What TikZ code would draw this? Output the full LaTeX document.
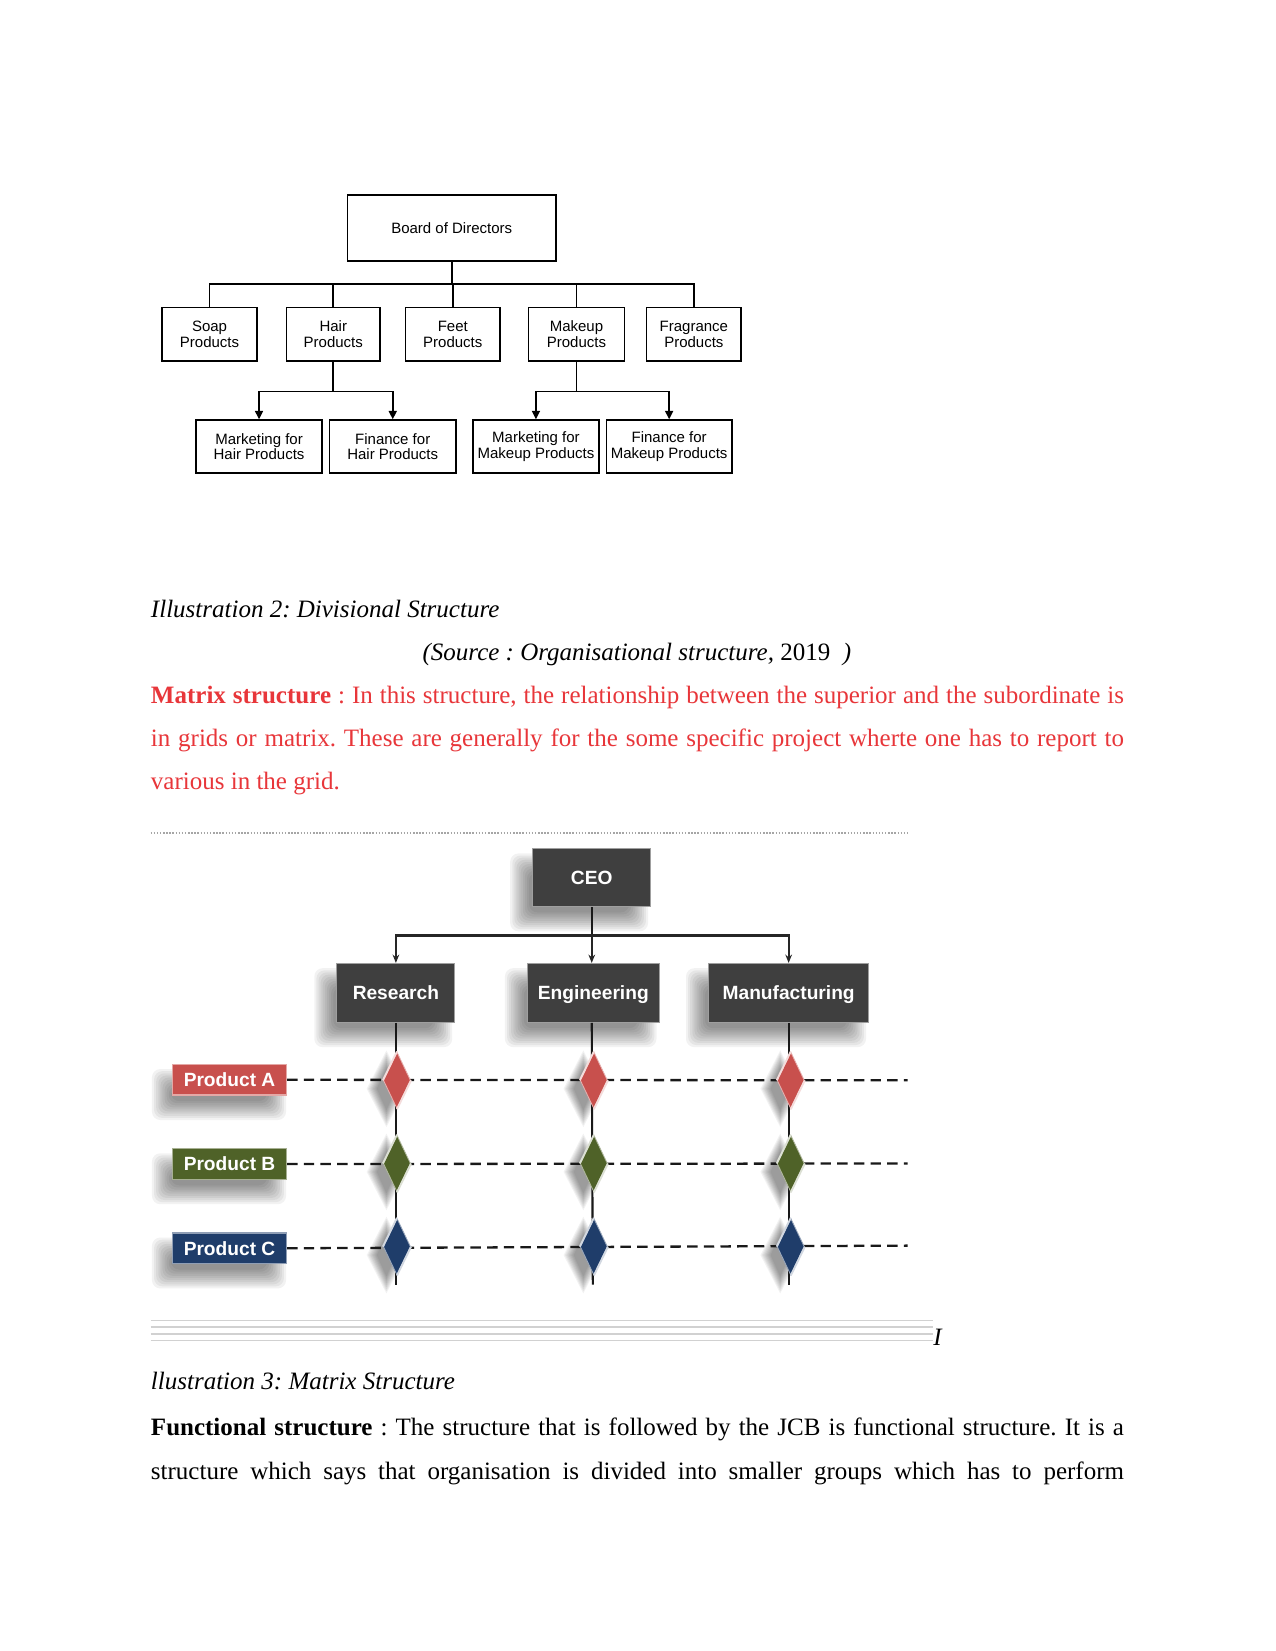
\documentclass[tikz,border=0pt]{standalone}
\usepackage{fontspec}
\setmainfont{Liberation Serif}
\setsansfont{Liberation Sans}
\usetikzlibrary{arrows.meta,shapes.geometric}
\definecolor{txtred}{RGB}{232,54,58}
\definecolor{boxgray}{RGB}{63,63,63}
\definecolor{pred}{RGB}{200,80,77}
\definecolor{pgreen}{RGB}{79,98,40}
\definecolor{pblue}{RGB}{31,61,106}
\def\u{0.50537pt}
\frenchspacing
\pgfdeclarelayer{paper}
\pgfdeclarelayer{shadow}
\pgfsetlayers{paper,shadow,main}
% soft rectangular shadow: node, dx, dy (picture units)
\newcommand\softsh[3]{%
  \begin{pgfonlayer}{shadow}
  \foreach \k in {0,...,9}{
    \pgfmathsetmacro\xa{#2-(2*\k-9)}
    \pgfmathsetmacro\ya{#3+(2*\k-9)}
    \pgfmathsetmacro\xb{#2+(2*\k-9)}
    \pgfmathsetmacro\yb{#3-(2*\k-9)}
    \fill[black, opacity=0.05, rounded corners=4pt]
      ([shift={(\xa,\ya)}]#1.south west) rectangle
      ([shift={(\xb,\yb)}]#1.north east);
  }
  \end{pgfonlayer}}
% soft diamond shadow
\newcommand\softdia[3]{%
  \begin{pgfonlayer}{shadow}
  \foreach \k in {0,...,8}{
    \pgfmathsetmacro\yn{#3-(2*\k-7)}
    \pgfmathsetmacro\ys{#3+(2*\k-7)}
    \pgfmathsetmacro\xe{#2+0.6*(2*\k-7)}
    \pgfmathsetmacro\xw{#2-0.6*(2*\k-7)}
    \fill[black, opacity=0.05]
      ([shift={(#2,\yn)}]#1.north) -- ([shift={(\xe,#3)}]#1.east) --
      ([shift={(#2,\ys)}]#1.south) -- ([shift={(\xw,#3)}]#1.west) -- cycle;
  }
  \end{pgfonlayer}}
\tikzset{
  sz/.style 2 args={minimum width=#1*\u, minimum height=#2*\u},
  obox/.style={draw=black, line width=0.8pt, fill=white, inner sep=0pt, align=center,
    font=\sffamily\fontsize{7.2}{7.4}\selectfont},
  oline/.style={line width=0.8pt, black},
  oarr/.style={-{Triangle[length=4pt,width=3.8pt]}, line width=0.8pt, black},
  mbox/.style={fill=boxgray, draw=gray!75, line width=0.5pt, inner sep=0pt, text=white,
    text height=8.5pt, text depth=1.9pt,
    font=\sffamily\bfseries\fontsize{9.2}{11}\selectfont},
  pbox/.style={fill=#1, draw=#1!50!white, line width=0.7pt, inner sep=0pt, text=white,
    text height=8.5pt, text depth=1.9pt,
    font=\sffamily\bfseries\fontsize{9.2}{11}\selectfont},
  marr/.style={-{Stealth[length=4pt,width=3.2pt]}, line width=1pt, black!85},
  mline/.style={line width=1pt, black!90},
  dline/.style={line width=1.1pt, black!90, dash pattern=on 5pt off 3pt},
  dia/.style={diamond, minimum width=13.1pt, minimum height=27.3pt, inner sep=0pt, fill=#1,
    draw=#1!45!white, line width=0.4pt},
  hl/.style={line width=0.9pt, white!80!#1},
  txt/.style={anchor=base west, inner sep=0pt, font=\fontsize{12}{14}\selectfont}
}
\begin{document}
\begin{tikzpicture}[x=0.50537pt,y=-0.50537pt]
\begin{pgfonlayer}{paper}
\fill[white] (0,0) rectangle (1211,1568);
\end{pgfonlayer}
\useasboundingbox (0,0) rectangle (1211,1568);

% ---------------- Divisional structure chart ----------------
\node[obox, sz={198}{63}] (board) at (429,216.5) {Board of Directors};
\node[obox, sz={90}{51}] (soap) at (199,317.5) {Soap\\Products};
\node[obox, sz={89}{51}] (hair) at (316.5,317.5) {Hair\\Products};
\node[obox, sz={90}{51}] (feet) at (430,317.5) {Feet\\Products};
\node[obox, sz={91}{51}] (makeup) at (547.5,317.5) {Makeup\\Products};
\node[obox, sz={90}{51}] (frag) at (659,317.5) {Fragrance\\Products};
\node[obox, sz={120}{50}] (mhair) at (246,424) {Marketing for\\Hair Products};
\node[obox, sz={120}{50}] (fhair) at (373,424) {Finance for\\Hair Products};
\node[obox, sz={120}{50}] (mmake) at (509,424) {Marketing for\\Makeup Products};
\node[obox, sz={119}{50}] (fmake) at (635.5,424) {Finance for\\Makeup Products};

\coordinate (bus) at (429,270);
\draw[oline] (board.south) -- (bus);
\draw[oline] (soap.north) |- (bus) -| (frag.north);
\draw[oline] (hair.north) -- (hair.north |- bus);
\draw[oline] (feet.north) -- (feet.north |- bus);
\draw[oline] (makeup.north) -- (makeup.north |- bus);

\draw[oline] (hair.south) -- ++(0,28) coordinate (hb);
\draw[oarr] (hb) -| (mhair.north);
\draw[oarr] (hb) -| (fhair.north);
\draw[oline] (makeup.south) -- ++(0,28) coordinate (mb);
\draw[oarr] (mb) -| (mmake.north);
\draw[oarr] (mb) -| (fmake.north);

% ---------------- Texts ----------------
\node[txt] (cap2) at (143,586) {\itshape Illustration 2: Divisional Structure};
\node[txt] (src) at (401,627) {\itshape (Source : Organisational structure, \upshape 2019\itshape\ \ )};
\node[txt, text=txtred] (l1) at (143,668) {\makebox[467pt][s]{\textbf{Matrix structure} : In this structure, the relationship between the superior and the subordinate is}};
\node[txt, text=txtred] (l2) at (143,709) {\makebox[467pt][s]{in grids or matrix. These are generally for the some specific project wherte one has to report to}};
\node[txt, text=txtred] (l3) at (143,750) {various in the grid.};

% dotted rule above matrix figure
\coordinate (dotL) at (143,791);
\coordinate (dotR) at (864,791);
\draw[black!35, line width=0.7pt, dash pattern=on 0.7pt off 0.8pt] (dotL) -- (dotR);

% ---------------- Matrix structure ----------------
\node[mbox, sz={112}{55}] (ceo) at (562,833.5) {CEO};
\node[mbox, sz={112}{56}] (res) at (376,943) {Research};
\node[mbox, sz={125}{56}] (eng) at (563.5,943) {Engineering};
\node[mbox, sz={152}{56}] (man) at (749,943) {Manufacturing};
\softsh{ceo}{-12}{14}
\softsh{res}{-12}{14}
\softsh{eng}{-12}{14}
\softsh{man}{-12}{14}

\draw[mline] (ceo.south) -- ++(0,27) coordinate (cb);
\draw[marr] (cb) -| (res.north);
\draw[marr] (cb) -| (man.north);
\draw[marr] (cb) -- (cb |- eng.north);

\node[pbox=pred, sz={108}{29}] (pa) at (218,1025.5) {Product A};
\node[pbox=pgreen, sz={108}{29}] (pb) at (218,1105.5) {Product B};
\node[pbox=pblue, sz={108}{29}] (pc) at (218,1185.5) {Product C};
\softsh{pa}{-10}{14}
\softsh{pb}{-10}{14}
\softsh{pc}{-10}{14}

\coordinate (resEnd) at (376,1220);
\coordinate (engEnd) at (563,1220);
\coordinate (manEnd) at (749,1220);
\draw[mline] (res.south) -- (resEnd);
\draw[mline] (eng.south -| cb) -- (engEnd);
\draw[mline] (man.south) -- (manEnd);

\coordinate (ea) at (862,1026);
\coordinate (eb) at (862,1105);
\coordinate (ec) at (862,1183);
\draw[dline] (pa.east) -- (ea);
\draw[dline] (pb.east) -- (eb);
\draw[dline] (pc.east) -- (ec);

\foreach \r/\c/\y in {A/pred/1026, B/pgreen/1105, C/pblue/1184}{
  \node[dia=\c] (d\r1) at (377,\y) {};
  \node[dia=\c] (d\r2) at (564,\y) {};
  \node[dia=\c] (d\r3) at (751,\y) {};
  \softdia{d\r1}{-10}{8}
  \softdia{d\r2}{-10}{8}
  \softdia{d\r3}{-10}{8}
  \draw[hl=\c] (d\r1.east) -- (d\r1.south);
  \draw[hl=\c] (d\r2.east) -- (d\r2.south);
  \draw[hl=\c] (d\r3.east) -- (d\r3.south);
  \draw[hl=\c] (d\r1.north) -- (d\r1.west);
  \draw[hl=\c] (d\r2.north) -- (d\r2.west);
  \draw[hl=\c] (d\r3.north) -- (d\r3.west);
}

% light rules under the figure
\foreach \yy [count=\i] in {1254,1260,1267,1273}{
  \coordinate (rl\i) at (143,\yy);
  \coordinate (rr\i) at (886,\yy);
  \draw[black!18, line width=0.8pt] (rl\i) -- (rr\i);
}
\node[txt] (iI) at (886,1278) {\itshape I};

\node[txt] (cap3) at (143,1320) {\itshape llustration 3: Matrix Structure};
\node[txt] (f1) at (143,1363) {\makebox[467pt][s]{\textbf{Functional structure} : The structure that is followed by the JCB is functional structure. It is a}};
\node[txt] (f2) at (143,1405) {\makebox[467pt][s]{structure which says that organisation is divided into smaller groups which has to perform}};
\end{tikzpicture}
\end{document}
